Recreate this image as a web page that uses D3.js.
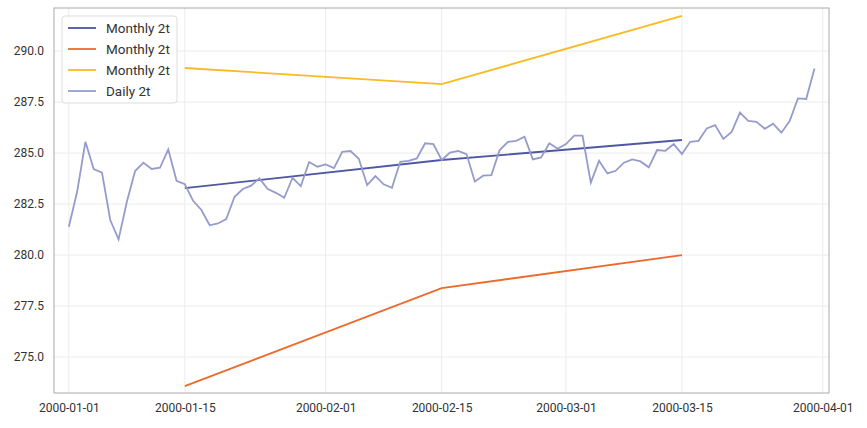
<!DOCTYPE html>
<html>
<head>
<meta charset="utf-8">
<script src="https://cdn.jsdelivr.net/npm/d3@7"></script>
<style>
  body { margin: 0; background: #fff; }
  text { font-family: Roboto, "DejaVu Sans", sans-serif; }
</style>
</head>
<body>
<div id="chart"></div>
<script>
// daily values, one per day from 2000-01-01 to 2000-03-31
const dailyStart = new Date(2000, 0, 1);
const dailyValues = [
  281.39, 283.10, 285.55, 284.22, 284.04, 281.72, 280.77, 282.61, 284.12, 284.53,
  284.22, 284.28, 285.18, 283.64, 283.47, 282.66, 282.21, 281.46, 281.55, 281.76,
  282.86, 283.24, 283.40, 283.76, 283.24, 283.05, 282.81, 283.79, 283.38, 284.56,
  284.33, 284.44, 284.26, 285.06, 285.10, 284.72, 283.43, 283.87, 283.47, 283.30,
  284.57, 284.62, 284.74, 285.48, 285.44, 284.66, 285.02, 285.11, 284.95, 283.60,
  283.89, 283.92, 285.15, 285.55, 285.60, 285.80, 284.69, 284.79, 285.48, 285.21,
  285.44, 285.85, 285.85, 283.55, 284.62, 284.00, 284.13, 284.53, 284.69, 284.59,
  284.30, 285.15, 285.11, 285.44, 284.95, 285.55, 285.60, 286.21, 286.37, 285.69,
  286.04, 286.98, 286.58, 286.53, 286.19, 286.44, 286.00, 286.57, 287.68, 287.65,
  289.15
];

const monthlyDates = ["2000-01-15", "2000-02-15", "2000-03-15"];
const monthlyMean = [283.28, 284.66, 285.64];
const monthlyLow = [273.58, 278.38, 280.00];
const monthlyHigh = [289.17, 288.38, 291.72];

const yTicks = [275.0, 277.5, 280.0, 282.5, 285.0, 287.5, 290.0];
const xTickLabels = ["2000-01-01", "2000-01-15", "2000-02-01", "2000-02-15", "2000-03-01", "2000-03-15", "2000-04-01"];

const parse = d3.timeParse("%Y-%m-%d");
const daily = dailyValues.map((v, i) => [d3.timeDay.offset(dailyStart, i), v]);
const toSeries = vals => monthlyDates.map((d, i) => [parse(d), vals[i]]);

const series = [
  { name: "Monthly 2t", color: "#4f57a2", data: toSeries(monthlyMean) },
  { name: "Monthly 2t", color: "#ec6a2c", data: toSeries(monthlyLow) },
  { name: "Monthly 2t", color: "#f8bb22", data: toSeries(monthlyHigh) },
  { name: "Daily 2t", color: "#959ccb", data: daily }
];

const W = 867, H = 428;
const margin = { top: 8, right: 38, bottom: 35, left: 54 };
const width = W - margin.left - margin.right;
const height = H - margin.top - margin.bottom;

const svg = d3.select("#chart").append("svg")
  .attr("width", W)
  .attr("height", H);

const g = svg.append("g")
  .attr("transform", `translate(${margin.left},${margin.top})`);

const x = d3.scaleTime()
  .domain([d3.timeHour.offset(daily[0][0], -43), d3.timeHour.offset(daily[daily.length - 1][0], 42)])
  .range([0, width]);

const y = d3.scaleLinear()
  .domain([273.24, 292.11])
  .range([height, 0]);

const xTicks = xTickLabels.map(parse);

// grid
g.append("g")
  .selectAll("line")
  .data(xTicks)
  .join("line")
  .attr("x1", d => x(d)).attr("x2", d => x(d))
  .attr("y1", 0).attr("y2", height)
  .attr("stroke", "#ececec");

g.append("g")
  .selectAll("line")
  .data(yTicks)
  .join("line")
  .attr("x1", 0).attr("x2", width)
  .attr("y1", d => y(d)).attr("y2", d => y(d))
  .attr("stroke", "#ececec");

// axes (labels only, no tick marks)
const xAxis = g.append("g")
  .attr("transform", `translate(0,${height})`)
  .call(d3.axisBottom(x).tickValues(xTicks).tickFormat(d3.timeFormat("%Y-%m-%d")).tickSize(0).tickPadding(10));
xAxis.select(".domain").remove();
xAxis.selectAll("text").style("font-size", "12px").attr("fill", "#333");

const yAxis = g.append("g")
  .call(d3.axisLeft(y).tickValues(yTicks).tickFormat(d3.format(".1f")).tickSize(0).tickPadding(10));
yAxis.select(".domain").remove();
yAxis.selectAll("text").style("font-size", "12px").attr("fill", "#333");

// lines
const line = d3.line()
  .x(d => x(d[0]))
  .y(d => y(d[1]));

g.selectAll(".series")
  .data(series)
  .join("path")
  .attr("class", "series")
  .attr("fill", "none")
  .attr("stroke", d => d.color)
  .attr("stroke-width", 1.8)
  .attr("d", d => line(d.data));

// frame
g.append("rect")
  .attr("width", width)
  .attr("height", height)
  .attr("fill", "none")
  .attr("stroke", "#aaaaaa")
  .attr("stroke-width", 1);

// legend
const legend = g.append("g").attr("transform", "translate(8,8)");
legend.append("rect")
  .attr("width", 115)
  .attr("height", 87)
  .attr("rx", 3)
  .attr("fill", "#fff")
  .attr("fill-opacity", 0.8)
  .attr("stroke", "#dddddd");

const item = legend.selectAll(".item")
  .data(series)
  .join("g")
  .attr("class", "item")
  .attr("transform", (d, i) => `translate(0,${12 + i * 21})`);

item.append("line")
  .attr("x1", 6).attr("x2", 34)
  .attr("stroke", d => d.color)
  .attr("stroke-width", 1.8);

item.append("text")
  .attr("x", 44)
  .attr("dy", "0.35em")
  .style("font-size", "13.5px")
  .attr("fill", "#333")
  .text(d => d.name);
</script>
</body>
</html>
